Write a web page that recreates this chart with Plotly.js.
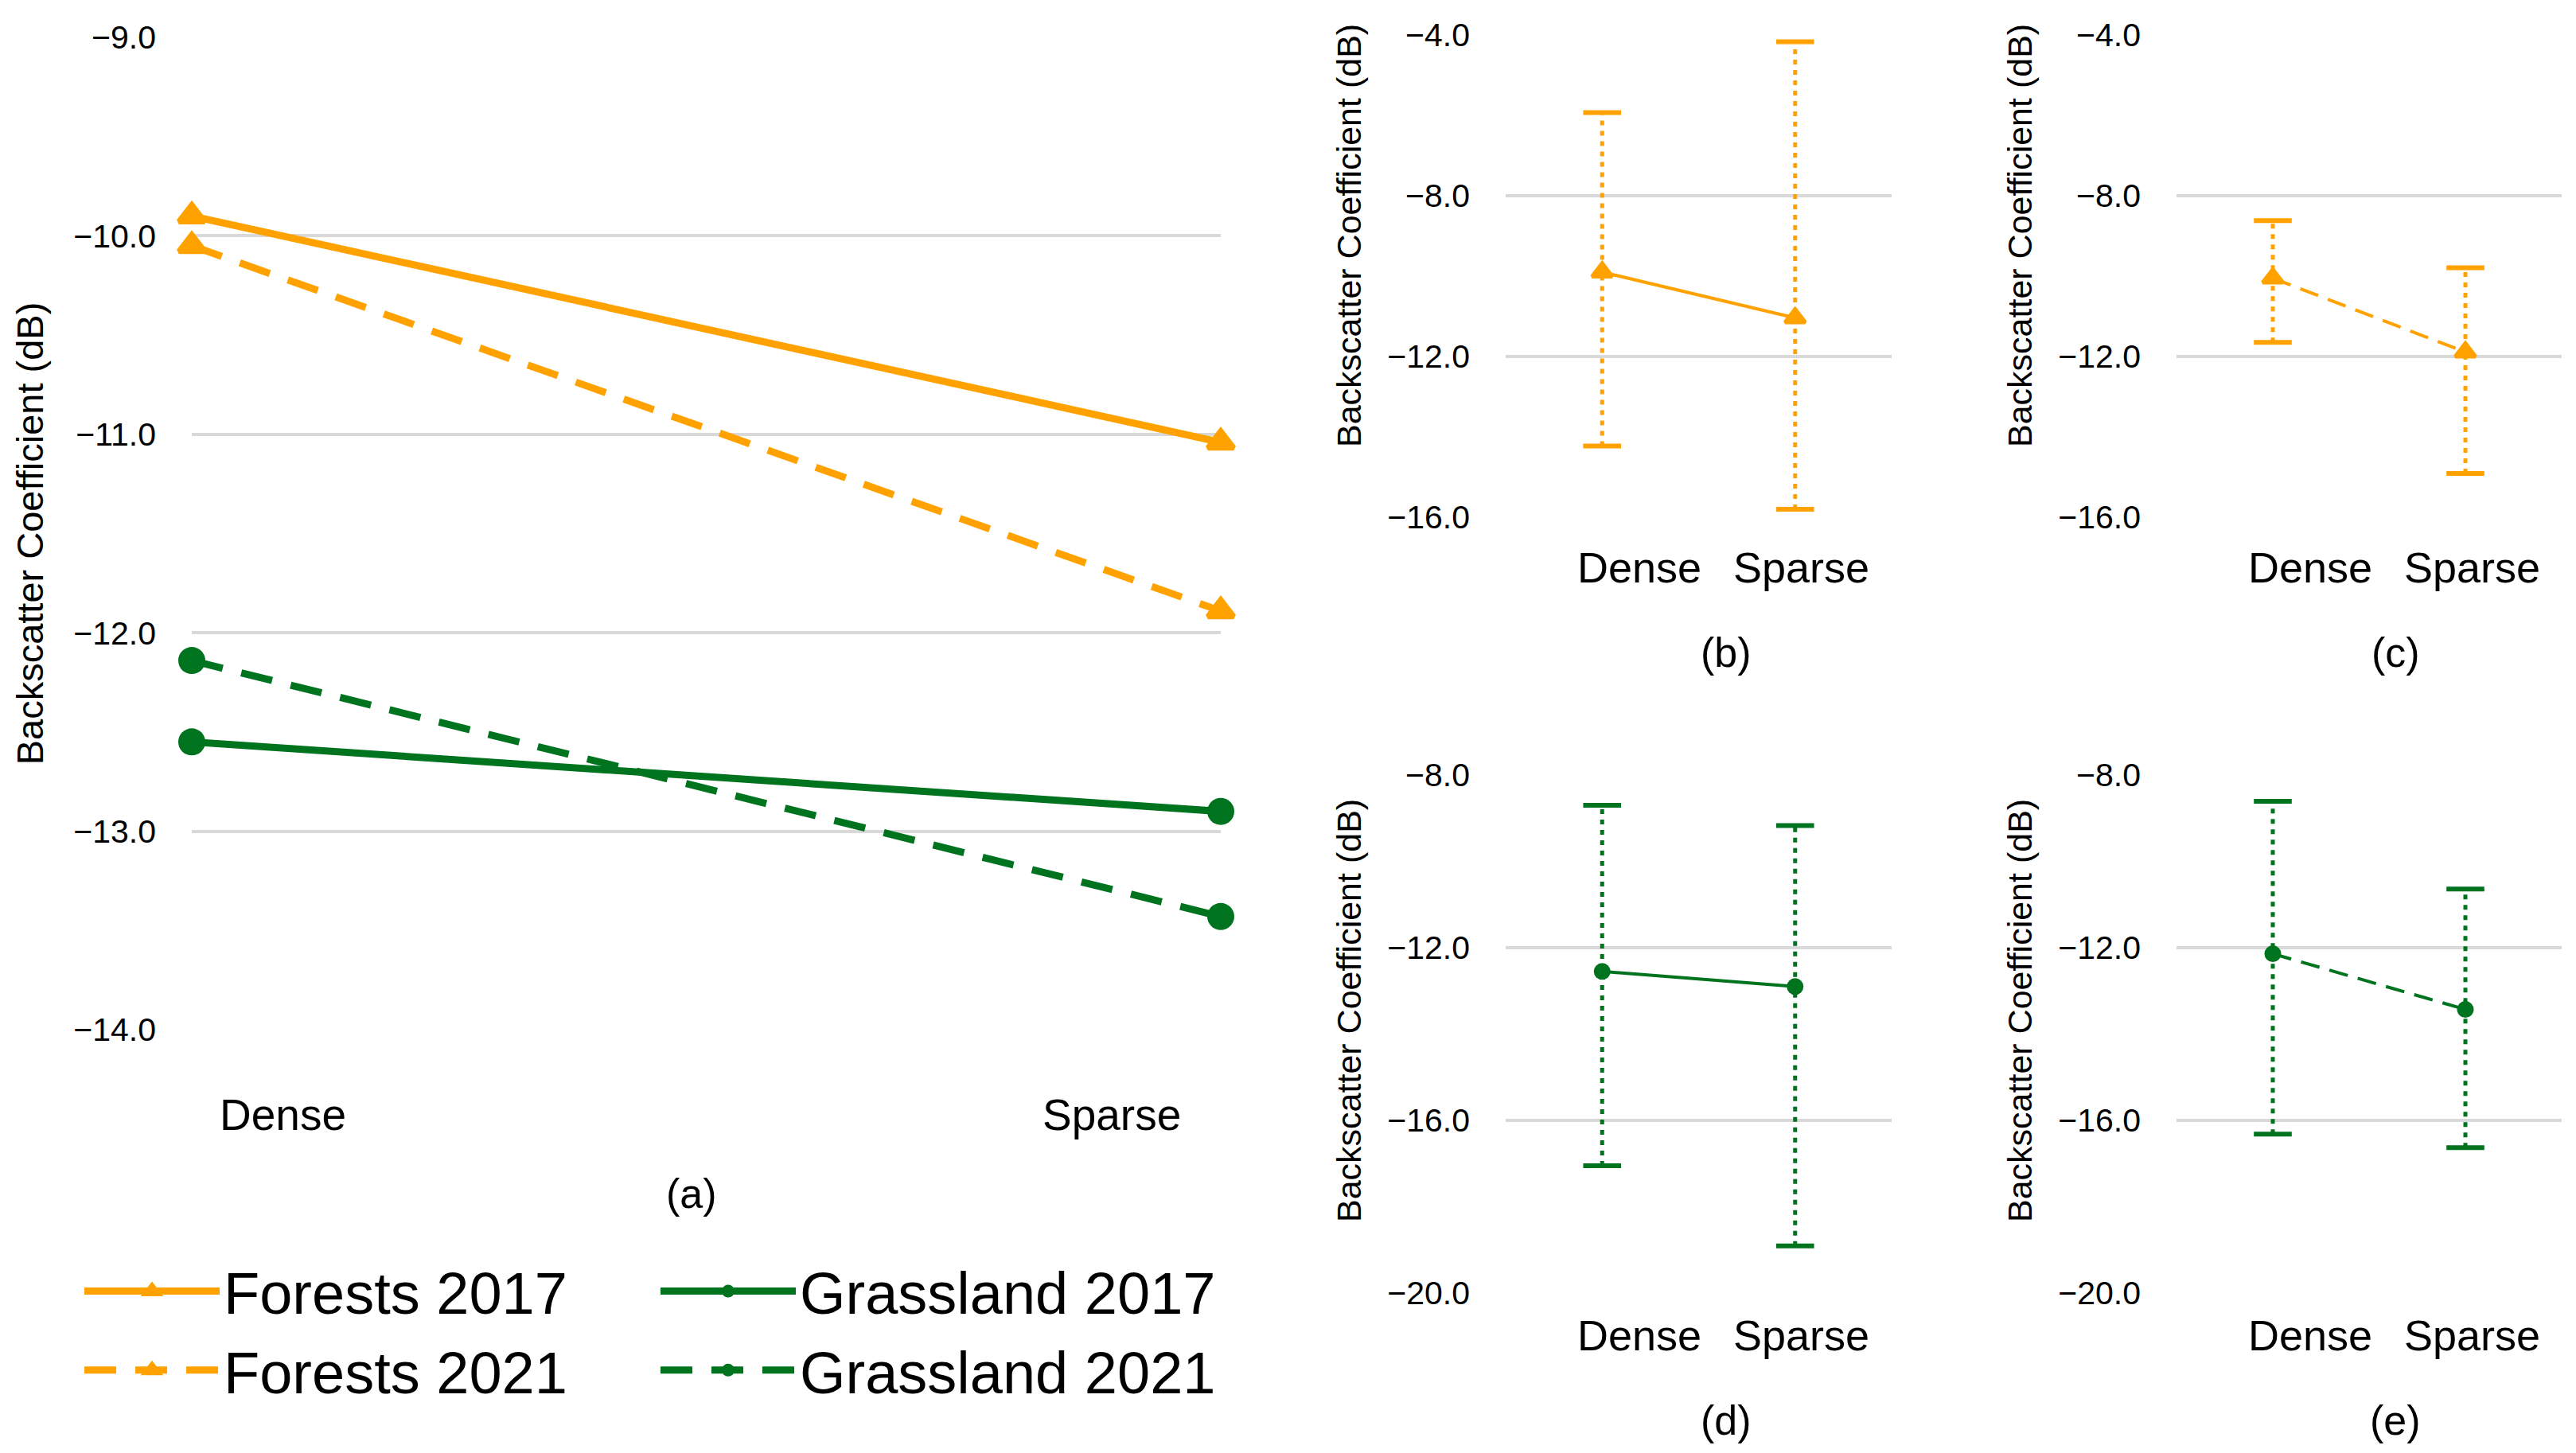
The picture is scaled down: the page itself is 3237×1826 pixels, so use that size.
<!DOCTYPE html>
<html><head><meta charset="utf-8">
<script src="https://cdn.plot.ly/plotly-3.0.1.min.js"></script>
<style>html,body{margin:0;padding:0;background:#fff}</style>
</head><body><div id="chart" style="width:3237px;height:1826px"></div>
<script>
// ---- data ----
const categories = ['Dense', 'Sparse'];
const panelLetters = ['(a)', '(b)', '(c)', '(d)', '(e)'];
const yTitle = 'Backscatter Coefficient (dB)';

const forests2017 = [-9.90, -11.04];
const forests2021 = [-10.05, -11.89];
const grassland2017 = [-12.55, -12.90];
const grassland2021 = [-12.14, -13.43];

const forests2017Upper = [-5.93, -4.17];
const forests2017Lower = [-14.23, -15.80];
const forests2021Upper = [-8.62, -9.79];
const forests2021Lower = [-11.65, -14.91];
const grassland2017Upper = [-8.70, -9.17];
const grassland2017Lower = [-17.05, -18.91];
const grassland2021Upper = [-8.61, -10.64];
const grassland2021Lower = [-16.32, -16.63];

const ORANGE = '#FFA200';
const GREEN = '#00731F';
const FONT = 'Liberation Sans, Arial, sans-serif';
const W = 3237, H = 1826;
const px = v => v / W;
const py = v => 1 - v / H;

// dotted whisker with solid caps, built from the bounds arrays
function whisker(up, lo, color, xa, ya, name) {
  const xs = [], ys = [];
  categories.forEach((c, i) => { xs.push(c, c, null); ys.push(lo[i], up[i], null); });
  return {x: xs, y: ys, name: name + ' range', type: 'scatter', mode: 'lines+markers', showlegend: false,
    cliponaxis: false, connectgaps: false,
    line: {color: color, width: 5, dash: '6px,7px'},
    marker: {symbol: 'line-ew', size: 34, line: {color: color, width: 6}},
    xaxis: xa, yaxis: ya};
}

const triMarkerA = {symbol: 'triangle-up', size: 28, color: ORANGE, line: {color: ORANGE, width: 7}};
const cirMarkerA = {symbol: 'circle', size: 34, color: GREEN, line: {width: 0}};
const triMarkerS = {symbol: 'triangle-up', size: 22, color: ORANGE, line: {color: ORANGE, width: 5}};
const cirMarkerS = {symbol: 'circle', size: 21, color: GREEN, line: {width: 0}};

function series(y, name, color, width, dash, marker, xa, ya, extra) {
  return Object.assign({x: categories, y: y, name: name, type: 'scatter', mode: 'lines+markers',
    cliponaxis: false, line: {color: color, width: width, dash: dash}, marker: marker,
    xaxis: xa, yaxis: ya}, extra || {});
}

const traces = [
  // panel (a)
  series(forests2017, 'Forests 2017', ORANGE, 9, 'solid', triMarkerA, 'x', 'y', {legend: 'legend'}),
  series(forests2021, 'Forests 2021', ORANGE, 9, '40px,24px', triMarkerA, 'x', 'y', {legend: 'legend'}),
  series(grassland2017, 'Grassland 2017', GREEN, 9, 'solid', cirMarkerA, 'x', 'y', {legend: 'legend2'}),
  series(grassland2021, 'Grassland 2021', GREEN, 9, '40px,24px', cirMarkerA, 'x', 'y', {legend: 'legend2'}),
  // panels (b)-(e): ranges first, then means
  whisker(forests2017Upper, forests2017Lower, ORANGE, 'x2', 'y2', 'Forests 2017'),
  whisker(forests2021Upper, forests2021Lower, ORANGE, 'x3', 'y3', 'Forests 2021'),
  whisker(grassland2017Upper, grassland2017Lower, GREEN, 'x4', 'y4', 'Grassland 2017'),
  whisker(grassland2021Upper, grassland2021Lower, GREEN, 'x5', 'y5', 'Grassland 2021'),
  series(forests2017, 'Forests 2017', ORANGE, 4, 'solid', triMarkerS, 'x2', 'y2', {showlegend: false}),
  series(forests2021, 'Forests 2021', ORANGE, 4, '24px,13px', triMarkerS, 'x3', 'y3', {showlegend: false}),
  series(grassland2017, 'Grassland 2017', GREEN, 4, 'solid', cirMarkerS, 'x4', 'y4', {showlegend: false}),
  series(grassland2021, 'Grassland 2021', GREEN, 4, '24px,13px', cirMarkerS, 'x5', 'y5', {showlegend: false})
];

function xAx(d, range) {
  return {domain: d, type: 'category', categoryarray: categories, range: range,
    showgrid: false, zeroline: false, showline: false, ticks: '', showticklabels: false, fixedrange: true};
}
function yAx(d, range, dtick, title) {
  const ax = {domain: d, range: range, dtick: dtick, tick0: 0, tickformat: '.1f',
    showgrid: true, gridcolor: '#D9D9D9', gridwidth: 4, zeroline: false, showline: false, ticks: '',
    ticklabelstandoff: 44, tickfont: {family: FONT, size: 41, color: '#000'}, fixedrange: true};
  if (title) ax.title = title;
  return ax;
}

const dA = [px(241), px(1534)];
const dL = [px(1892), px(2377)];
const dR = [px(2735), px(3219)];
const yTop = [py(650), py(44)];
const yBot = [py(1625), py(974)];

const annotations = [];
function xLab(xref, yv, shifts, size) {
  categories.forEach((c, i) => annotations.push({
    xref: xref, yref: 'paper', x: c, y: yv, xanchor: 'center', yanchor: 'middle',
    xshift: shifts[i], showarrow: false, text: c, font: {family: FONT, size: size, color: '#000'}
  }));
}
xLab('x', py(1401), [114, -137], 55);
xLab('x2', py(713), [47, 8], 54);
xLab('x3', py(713), [47, 8], 54);
xLab('x4', py(1678), [47, 8], 54);
xLab('x5', py(1678), [47, 8], 54);
const letterPos = [[869, 1500], [2169, 820], [3010, 820], [2169, 1785], [3010, 1785]];
panelLetters.forEach((t, i) => annotations.push({
  xref: 'paper', yref: 'paper', x: px(letterPos[i][0]), y: py(letterPos[i][1]),
  xanchor: 'center', yanchor: 'middle', showarrow: false, text: t,
  font: {family: FONT, size: 52, color: '#000'}
}));
// y-axis titles of the small panels
const yTitlePos = [[1695, 296], [2538, 296], [1695, 1270], [2538, 1270]];
yTitlePos.forEach(p => annotations.push({
  xref: 'paper', yref: 'paper', x: px(p[0]), y: py(p[1]), xanchor: 'center', yanchor: 'middle',
  textangle: -90, showarrow: false, text: yTitle, font: {family: FONT, size: 43, color: '#000'}
}));

const legendFont = {family: FONT, size: 74, color: '#000'};
const layout = {
  width: W, height: H,
  margin: {l: 0, r: 0, t: 0, b: 0, pad: 0},
  paper_bgcolor: '#fff', plot_bgcolor: '#fff',
  font: {family: FONT, color: '#000'},
  xaxis: xAx(dA, [0, 1]),
  yaxis: yAx([py(1294), py(47)], [-14, -9], 1,
    {text: yTitle, font: {family: FONT, size: 47, color: '#000'}, standoff: 22}),
  xaxis2: Object.assign(xAx(dL, [-0.5, 1.5]), {anchor: 'y2'}),
  yaxis2: Object.assign(yAx(yTop, [-16, -4], 4), {anchor: 'x2'}),
  xaxis3: Object.assign(xAx(dR, [-0.5, 1.5]), {anchor: 'y3'}),
  yaxis3: Object.assign(yAx(yTop, [-16, -4], 4), {anchor: 'x3'}),
  xaxis4: Object.assign(xAx(dL, [-0.5, 1.5]), {anchor: 'y4'}),
  yaxis4: Object.assign(yAx(yBot, [-20, -8], 4), {anchor: 'x4'}),
  xaxis5: Object.assign(xAx(dR, [-0.5, 1.5]), {anchor: 'y5'}),
  yaxis5: Object.assign(yAx(yBot, [-20, -8], 4), {anchor: 'x5'}),
  legend: {orientation: 'v', x: px(101), y: py(1568), xanchor: 'left', yanchor: 'top',
    font: legendFont, itemwidth: 170, tracegroupgap: 0, bgcolor: 'rgba(0,0,0,0)', borderwidth: 0},
  legend2: {orientation: 'v', x: px(825), y: py(1568), xanchor: 'left', yanchor: 'top',
    font: legendFont, itemwidth: 170, tracegroupgap: 0, bgcolor: 'rgba(0,0,0,0)', borderwidth: 0},
  showlegend: true,
  annotations: annotations,
  hovermode: false
};

Plotly.newPlot('chart', traces, layout, {displayModeBar: false, staticPlot: true, responsive: false});
</script>
</body></html>
